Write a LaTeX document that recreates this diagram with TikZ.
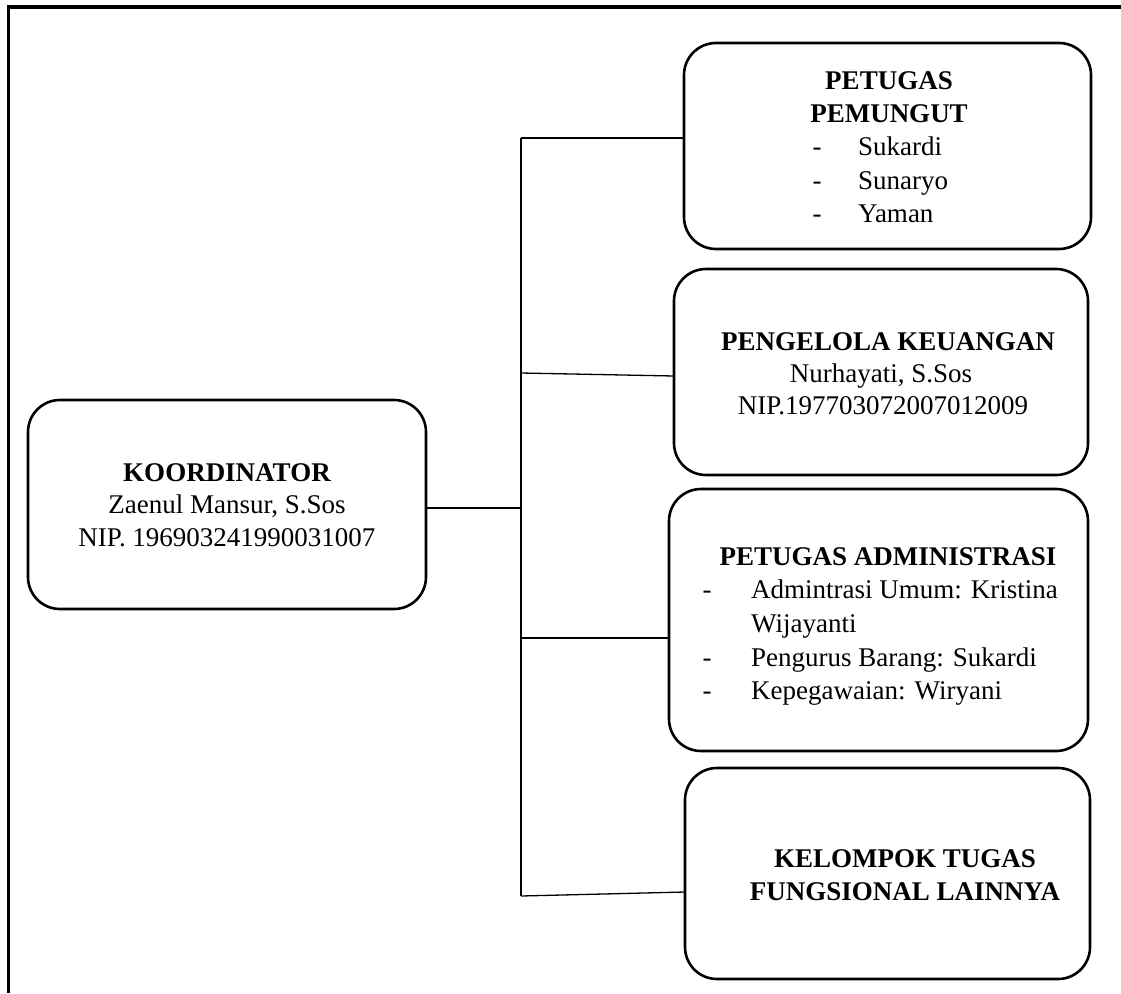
\documentclass[tikz,border=0pt]{standalone}
\usepackage{fontspec}
\setmainfont{Liberation Serif}
\begin{document}
\begin{tikzpicture}[x=1pt,y=-1pt,
  box/.style={draw, line width=2.6pt, rounded corners=32pt, inner sep=0pt, outer sep=0pt},
  conn/.style={line width=1.3pt},
  frameline/.style={line width=3.6pt},
  txt/.style={anchor=base, inner sep=0pt, font=\fontsize{27}{32}\selectfont},
  hd/.style={txt, font=\fontsize{27}{32}\selectfont\bfseries},
  itm/.style={anchor=base west, inner sep=0pt, font=\fontsize{27}{32}\selectfont},
  dsh/.style={anchor=base, inner sep=0pt, font=\fontsize{27}{32}\selectfont}]
\useasboundingbox (0,0) rectangle (1121,993);
% frame
\coordinate (fa) at (8.5,993);
\coordinate (fb) at (8.5,7);
\coordinate (fc) at (1121,7);
\draw[frameline] (fa) -- (fb) -- (fc);
% boxes
\node[box, minimum width=398pt, minimum height=209pt] (koor) at (227,504.5) {};
\node[box, minimum width=407pt, minimum height=206pt] (b1) at (887.5,146) {};
\node[box, minimum width=414pt, minimum height=206pt] (b2) at (881,372) {};
\node[box, minimum width=419pt, minimum height=262pt] (b3) at (878.5,620) {};
\node[box, minimum width=405pt, minimum height=211pt] (b4) at (887.5,873.5) {};
% texts koordinator
\node[hd] (k1) at (227,481) {KOORDINATOR};
\node[txt] (k2) at (227,513) {Zaenul Mansur, S.Sos};
\node[txt] (k3) at (227,546) {NIP. 196903241990031007};
% box1
\node[hd] (p1) at (889,89) {PETUGAS};
\node[hd] (p2) at (889,122) {PEMUNGUT};
\node[dsh] (pd1) at (817,155) {-};
\node[dsh] (pd2) at (817,189) {-};
\node[dsh] (pd3) at (817,222) {-};
\node[itm] (pi1) at (858,155) {Sukardi};
\node[itm] (pi2) at (858,189) {Sunaryo};
\node[itm] (pi3) at (858,222) {Yaman};
% box2
\node[hd] (q1) at (888,350) {PENGELOLA KEUANGAN};
\node[txt] (q2) at (881,382) {Nurhayati, S.Sos};
\node[txt] (q3) at (883,414) {NIP.197703072007012009};
% box3
\node[hd] (r0) at (888,565) {PETUGAS ADMINISTRASI};
\node[dsh] (rd1) at (707,598) {-};
\node[dsh] (rd2) at (707,666) {-};
\node[dsh] (rd3) at (707,699) {-};
\node[itm] (ri1) at (751,598) {Admintrasi Umum: Kristina};
\node[itm] (ri1b) at (751,632) {Wijayanti};
\node[itm] (ri2) at (751,666) {Pengurus Barang: Sukardi};
\node[itm] (ri3) at (751,699) {Kepegawaian: Wiryani};
% box4
\node[hd] (s1) at (905,867) {KELOMPOK TUGAS};
\node[hd] (s2) at (905,900) {FUNGSIONAL LAINNYA};
% connectors
\coordinate (tk) at (521,508);
\coordinate (t1) at (521,138);
\coordinate (t2) at (521,373);
\coordinate (t3) at (521,638);
\coordinate (t4) at (521,896);
\draw[conn] ([yshift=-3.5pt]koor.east) -- (tk);
\draw[conn] (t1) -- (t4);
\draw[conn] (t1) -- (t1 -| b1.west);
\draw[conn] (t2) -- ([yshift=-4pt]b2.west);
\draw[conn] (t3) -- (t3 -| b3.west);
\draw[conn] (t4) -- ([yshift=-18.5pt]b4.west);
\end{tikzpicture}
\end{document}
